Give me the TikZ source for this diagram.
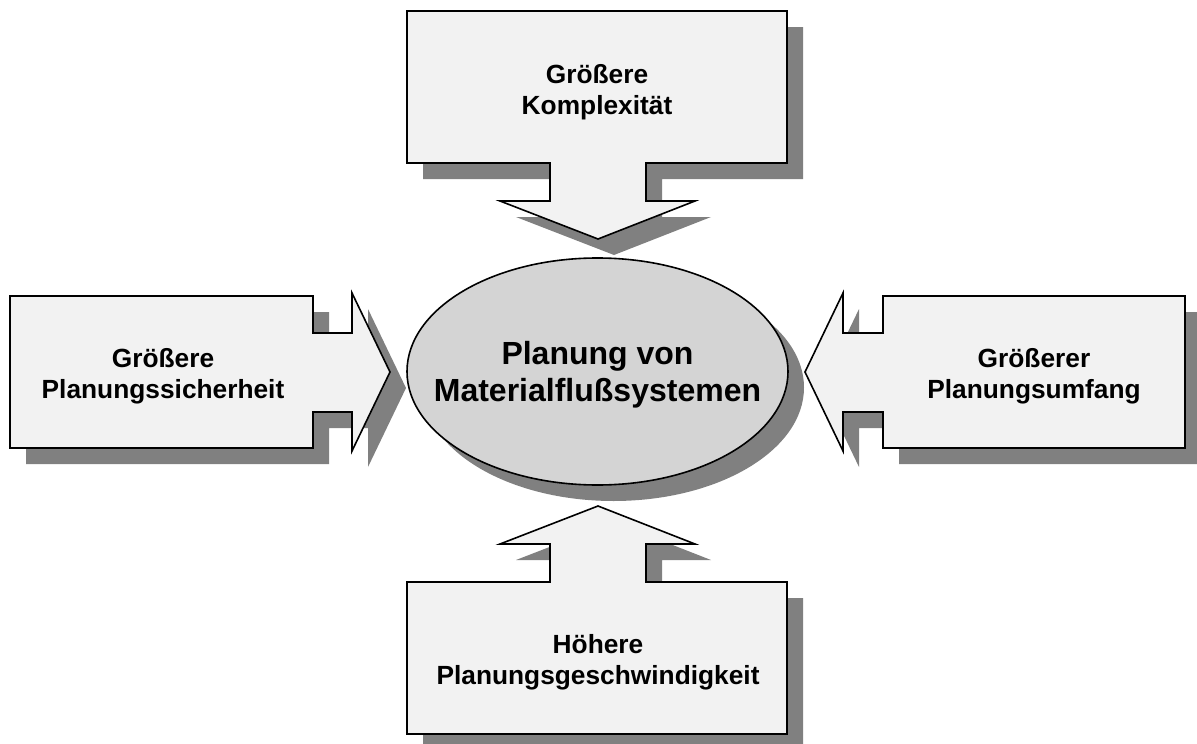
\documentclass[tikz,border=0pt]{standalone}
\usepackage{fontspec}
\setmainfont[Ligatures=NoCommon]{Liberation Sans}
\definecolor{boxfill}{RGB}{242,242,242}
\definecolor{ovalfill}{RGB}{212,212,212}
\definecolor{shade}{RGB}{128,128,128}
\begin{document}
\begin{tikzpicture}[x=1pt,y=-1pt,
  outline/.style={draw=black,line width=1.6pt,line join=miter,fill=boxfill},
  drop/.style={fill=shade,draw=none},
  boxtext/.style={font=\fontsize{26.3}{31}\selectfont\bfseries,align=center,inner sep=0pt},
  coretext/.style={font=\fontsize{32}{37}\selectfont\bfseries,align=center,inner sep=0pt},
  % block arrows pointing at the central oval
  arrow down/.style={insert path={(407,11) -- (787,11) -- (787,163) -- (646,163) -- (646,201) -- (695,201) -- (598,239) -- (500,201) -- (550,201) -- (550,163) -- (407,163) -- cycle}},
  arrow up/.style={insert path={(407,734) -- (787,734) -- (787,582) -- (646,582) -- (646,544) -- (695,544) -- (598,506) -- (500,544) -- (550,544) -- (550,582) -- (407,582) -- cycle}},
  arrow right/.style={insert path={(10,296) -- (313,296) -- (313,333) -- (352,333) -- (352,293) -- (390,372) -- (352,451) -- (352,412) -- (313,412) -- (313,448) -- (10,448) -- cycle}},
  arrow left/.style={insert path={(1185,296) -- (883,296) -- (883,333) -- (843,333) -- (843,293) -- (805,372) -- (843,451) -- (843,412) -- (883,412) -- (883,448) -- (1185,448) -- cycle}},
  oval/.style={insert path={(597.5,371.5) ellipse [x radius=190.5, y radius=113.5]}},
]
\useasboundingbox (0,0) rectangle (1197,744);
\clip (0,0) rectangle (1197,744);

% drop shadows
\begin{scope}[shift={(16,16)}]
  \path[drop, arrow down];
  \path[drop, arrow up];
  \path[drop, arrow right];
  \path[drop, arrow left];
  \path[drop, oval];
\end{scope}

% shapes
\path[outline, arrow down];
\path[outline, arrow up];
\path[outline, arrow right];
\path[outline, arrow left];
\path[outline, fill=ovalfill, oval];

% labels
\node[coretext] (core) at (597.5,374.5) {Planung von\\Materialflußsysteme{}n};
\node[boxtext] (top) at (597,92) {Größere\\Komplexität};
\node[boxtext] (left) at (163,376.5) {Größere\\Planungssicherheit};
\node[boxtext] (right) at (1034,376.5) {Größerer\\Planungsumfang};
\node[boxtext] (bottom) at (598,662) {Höhere\\Planungsgeschwindigkeit};
\end{tikzpicture}
\end{document}
